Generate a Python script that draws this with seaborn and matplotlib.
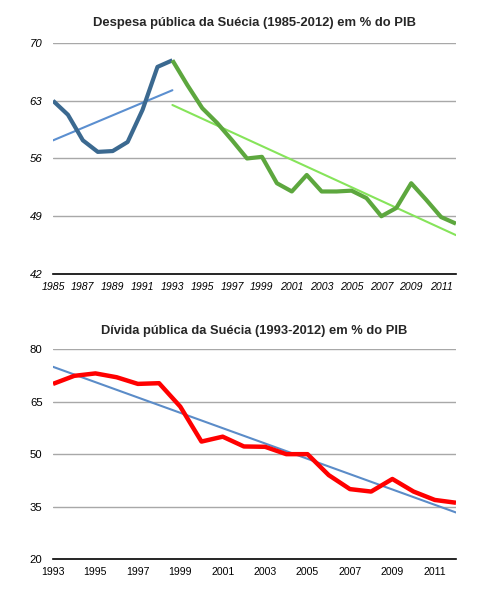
import numpy as np
import pandas as pd
import matplotlib
matplotlib.use("Agg")
import matplotlib.pyplot as plt
import seaborn as sns

# -----------------------------
# DATA
# -----------------------------
anos_1 = list(range(1985, 1994))
despesa_1 = [63.0, 61.3, 58.2, 56.8, 56.9, 58.0, 61.9, 67.1, 67.9]

anos_2 = list(range(1993, 2013))
despesa_2 = [67.9, 64.9, 62.1, 60.3, 58.2, 56.0, 56.2, 53.0, 52.0, 54.0,
             52.0, 52.0, 52.1, 51.2, 49.0, 50.0, 53.0, 51.0, 48.9, 48.1]

anos_divida = list(range(1993, 2013))
divida = [70.1, 72.4, 73.1, 72.0, 70.1, 70.3, 63.6, 53.6, 55.0, 52.2,
          52.1, 50.0, 50.0, 44.0, 40.0, 39.3, 42.9, 39.3, 36.9, 36.1]

ticks_y_despesa = [42, 49, 56, 63, 70]
ticks_x_despesa = list(range(1985, 2012, 2))
ticks_y_divida = [20, 35, 50, 65, 80]
ticks_x_divida = list(range(1993, 2012, 2))

titulo_1 = "Despesa pública da Suécia (1985-2012) em % do PIB"
titulo_2 = "Dívida pública da Suécia (1993-2012) em % do PIB"

df1 = pd.DataFrame({"ano": anos_1, "valor": despesa_1})
df2 = pd.DataFrame({"ano": anos_2, "valor": despesa_2})
df3 = pd.DataFrame({"ano": anos_divida, "valor": divida})

# -----------------------------
# STYLE
# -----------------------------
sns.set_style("white")
plt.rcParams["font.family"] = ["Liberation Sans", "DejaVu Sans"]

fig = plt.figure(figsize=(4.89, 5.91), dpi=100)
ax1 = fig.add_axes([0.1084, 0.5364, 0.8241, 0.3909])
ax2 = fig.add_axes([0.1084, 0.0541, 0.8241, 0.3549])

grid_color = "#a8a8a8"


def style_axis(ax, xlim, ylim, xticks, yticks, italic):
    ax.set_xlim(*xlim)
    ax.set_ylim(*ylim)
    ax.set_xticks(xticks)
    ax.set_yticks(yticks)
    for y in yticks[1:]:
        ax.axhline(y, color=grid_color, lw=1.0, zorder=0)
    for s in ["top", "right", "left"]:
        ax.spines[s].set_visible(False)
    ax.spines["bottom"].set_color("black")
    ax.spines["bottom"].set_linewidth(1.2)
    style = "italic" if italic else "normal"
    ax.tick_params(axis="both", length=0, labelcolor="black")
    ax.tick_params(axis="x", labelsize=7.6, pad=6)
    ax.tick_params(axis="y", labelsize=8.2, pad=7.5)
    for lab in ax.get_xticklabels() + ax.get_yticklabels():
        lab.set_fontstyle(style)
    ax.set_xlabel("")
    ax.set_ylabel("")


# -----------------------------
# CHART 1 — Despesa pública
# -----------------------------
sns.regplot(data=df1, x="ano", y="valor", ax=ax1, scatter=False, ci=None,
            truncate=True, line_kws={"color": "#5b8fd0", "lw": 1.5, "zorder": 3})
sns.regplot(data=df2, x="ano", y="valor", ax=ax1, scatter=False, ci=None,
            truncate=True, line_kws={"color": "#86e45a", "lw": 1.5, "zorder": 3})
sns.lineplot(data=df1, x="ano", y="valor", ax=ax1, color="#3b6990", lw=3.0,
             zorder=4, solid_joinstyle="round", solid_capstyle="butt")
sns.lineplot(data=df2, x="ano", y="valor", ax=ax1, color="#5da73e", lw=3.0,
             zorder=4, solid_joinstyle="round", solid_capstyle="butt")

style_axis(ax1, (1985, 2012), (42, 70), ticks_x_despesa, ticks_y_despesa, True)
ax1.set_title(titulo_1, fontsize=9.4, fontweight="bold", pad=12)

# -----------------------------
# CHART 2 — Dívida pública
# -----------------------------
sns.regplot(data=df3, x="ano", y="valor", ax=ax2, scatter=False, ci=None,
            truncate=True, line_kws={"color": "#5b8cc8", "lw": 1.5, "zorder": 3})
sns.lineplot(data=df3, x="ano", y="valor", ax=ax2, color="#ff0000", lw=3.2,
             zorder=4, solid_joinstyle="round", solid_capstyle="butt")

style_axis(ax2, (1993, 2012), (20, 80), ticks_x_divida, ticks_y_divida, False)
ax2.set_title(titulo_2, fontsize=9.3, fontweight="bold", pad=11)

fig.savefig("out.png", dpi=100)
